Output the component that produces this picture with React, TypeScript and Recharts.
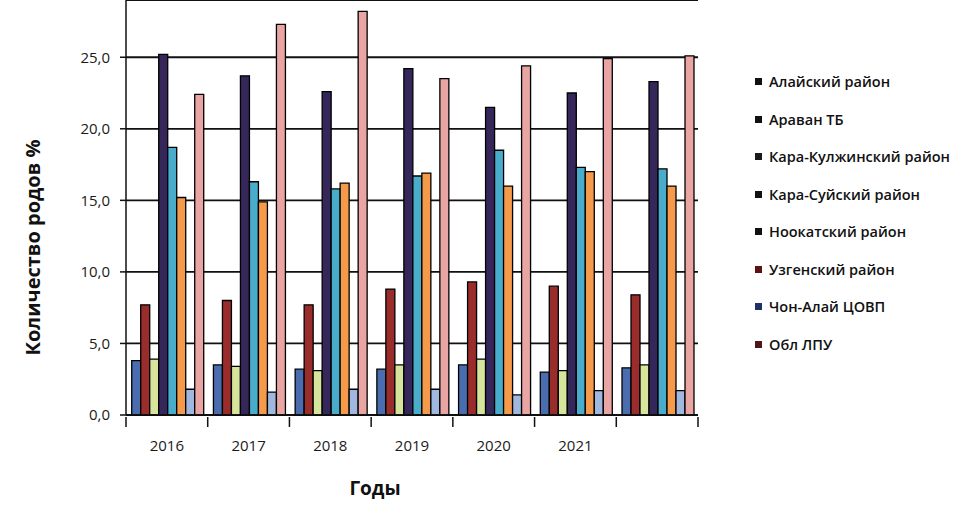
import React from "react";
import { BarChart, Bar, XAxis, YAxis, CartesianGrid, Legend } from "recharts";

const years = ["2016", "2017", "2018", "2019", "2020", "2021", ""];
const alay = [3.8, 3.5, 3.2, 3.2, 3.5, 3.0, 3.3];
const aravan = [7.7, 8.0, 7.7, 8.8, 9.3, 9.0, 8.4];
const karaKulja = [3.9, 3.4, 3.1, 3.5, 3.9, 3.1, 3.5];
const karaSuu = [25.2, 23.7, 22.6, 24.2, 21.5, 22.5, 23.3];
const nookat = [18.7, 16.3, 15.8, 16.7, 18.5, 17.3, 17.2];
const uzgen = [15.2, 14.9, 16.2, 16.9, 16.0, 17.0, 16.0];
const chonAlay = [1.8, 1.6, 1.8, 1.8, 1.4, 1.7, 1.7];
const oblLpu = [22.4, 27.3, 28.2, 23.5, 24.4, 24.9, 25.1];
const yTicks = [0, 5, 10, 15, 20, 25];

const series = [
  { key: "alay", name: "Алайский район", values: alay, fill: "#4a6db0", mark: "#111" },
  { key: "aravan", name: "Араван ТБ", values: aravan, fill: "#9a2c2c", mark: "#111" },
  { key: "karaKulja", name: "Кара-Кулжинский район", values: karaKulja, fill: "#d6e49c", mark: "#1a1a1a" },
  { key: "karaSuu", name: "Кара-Суйский район", values: karaSuu, fill: "#36275a", mark: "#111" },
  { key: "nookat", name: "Ноокатский район", values: nookat, fill: "#4aaccb", mark: "#111" },
  { key: "uzgen", name: "Узгенский район", values: uzgen, fill: "#f59a4a", mark: "#5a1212" },
  { key: "chonAlay", name: "Чон-Алай ЦОВП", values: chonAlay, fill: "#a0b8df", mark: "#1f3262" },
  { key: "oblLpu", name: "Обл ЛПУ", values: oblLpu, fill: "#e8a5a3", mark: "#4e1616" },
];

const data = years.map((year, i) => {
  const row: Record<string, string | number> = { year };
  series.forEach((s) => {
    row[s.key] = s.values[i];
  });
  return row;
});

const FONT = "'Open Sans', 'DejaVu Sans', sans-serif";
const LEGEND_WIDTH = 215;

function YearTick(props: any) {
  const { x, y, payload, index, visibleTicksCount } = props;
  const half = payload.offset ?? 41;
  return (
    <g>
      <line x1={x - half} x2={x - half} y1={y - 6} y2={y + 4} stroke="#111" strokeWidth={1.5} />
      {index === visibleTicksCount - 1 && (
        <line x1={x + half} x2={x + half} y1={y - 6} y2={y + 4} stroke="#111" strokeWidth={1.5} />
      )}
      <text x={x} y={y + 28} textAnchor="middle" fontSize={15} fill="#1a1a1a" fontFamily={FONT}>
        {payload.value}
      </text>
    </g>
  );
}

function SideLegend() {
  return (
    <div style={{ fontFamily: FONT }}>
      {series.map((s) => (
        <div
          key={s.key}
          style={{ display: "flex", alignItems: "center", height: 37.5, fontSize: 14.5, fontWeight: 600, color: "#111" }}
        >
          <span style={{ display: "inline-block", width: 7, height: 7, background: s.mark, marginRight: 7 }} />
          {s.name}
        </div>
      ))}
    </div>
  );
}

export default function App() {
  return (
    <div style={{ position: "absolute", left: 0, top: 0, background: "#fff" }}>
      <BarChart
        width={972}
        height={517}
        data={data}
        margin={{ top: 0, right: 274 - LEGEND_WIDTH, bottom: 17, left: 0 }}
        barCategoryGap="7%"
        barGap={0}
      >
        <CartesianGrid horizontal vertical={false} stroke="#111" strokeWidth={1.8} />
        <XAxis
          dataKey="year"
          tick={<YearTick />}
          tickLine={false}
          axisLine={{ stroke: "#111", strokeWidth: 1.5 }}
          interval={0}
          height={85}
          label={{
            value: "Годы",
            position: "insideBottom",
            offset: 5,
            dx: -37,
            style: { fontSize: 19, fontWeight: 700, fill: "#111", fontFamily: FONT },
          }}
        />
        <YAxis
          domain={[0, 29]}
          ticks={yTicks}
          width={126}
          tickSize={6}
          tickMargin={10}
          tickFormatter={(v: number) => v.toFixed(1).replace(".", ",")}
          tick={{ fontSize: 15, fill: "#1a1a1a", fontFamily: FONT }}
          tickLine={{ stroke: "#111", strokeWidth: 1.5 }}
          axisLine={{ stroke: "#111", strokeWidth: 1.5 }}
          label={{
            value: "Количество родов %",
            angle: -90,
            position: "insideLeft",
            dx: 28,
            dy: 40,
            style: { fontSize: 20, fontWeight: 700, fill: "#111", fontFamily: FONT, textAnchor: "middle" },
          }}
        />
        <Legend
          layout="vertical"
          verticalAlign="top"
          align="right"
          content={<SideLegend />}
          wrapperStyle={{ left: 755, top: 63, width: LEGEND_WIDTH }}
        />
        {series.map((s) => (
          <Bar
            key={s.key}
            dataKey={s.key}
            name={s.name}
            fill={s.fill}
            stroke="#000"
            strokeWidth={1.3}
            isAnimationActive={false}
          />
        ))}
      </BarChart>
    </div>
  );
}
